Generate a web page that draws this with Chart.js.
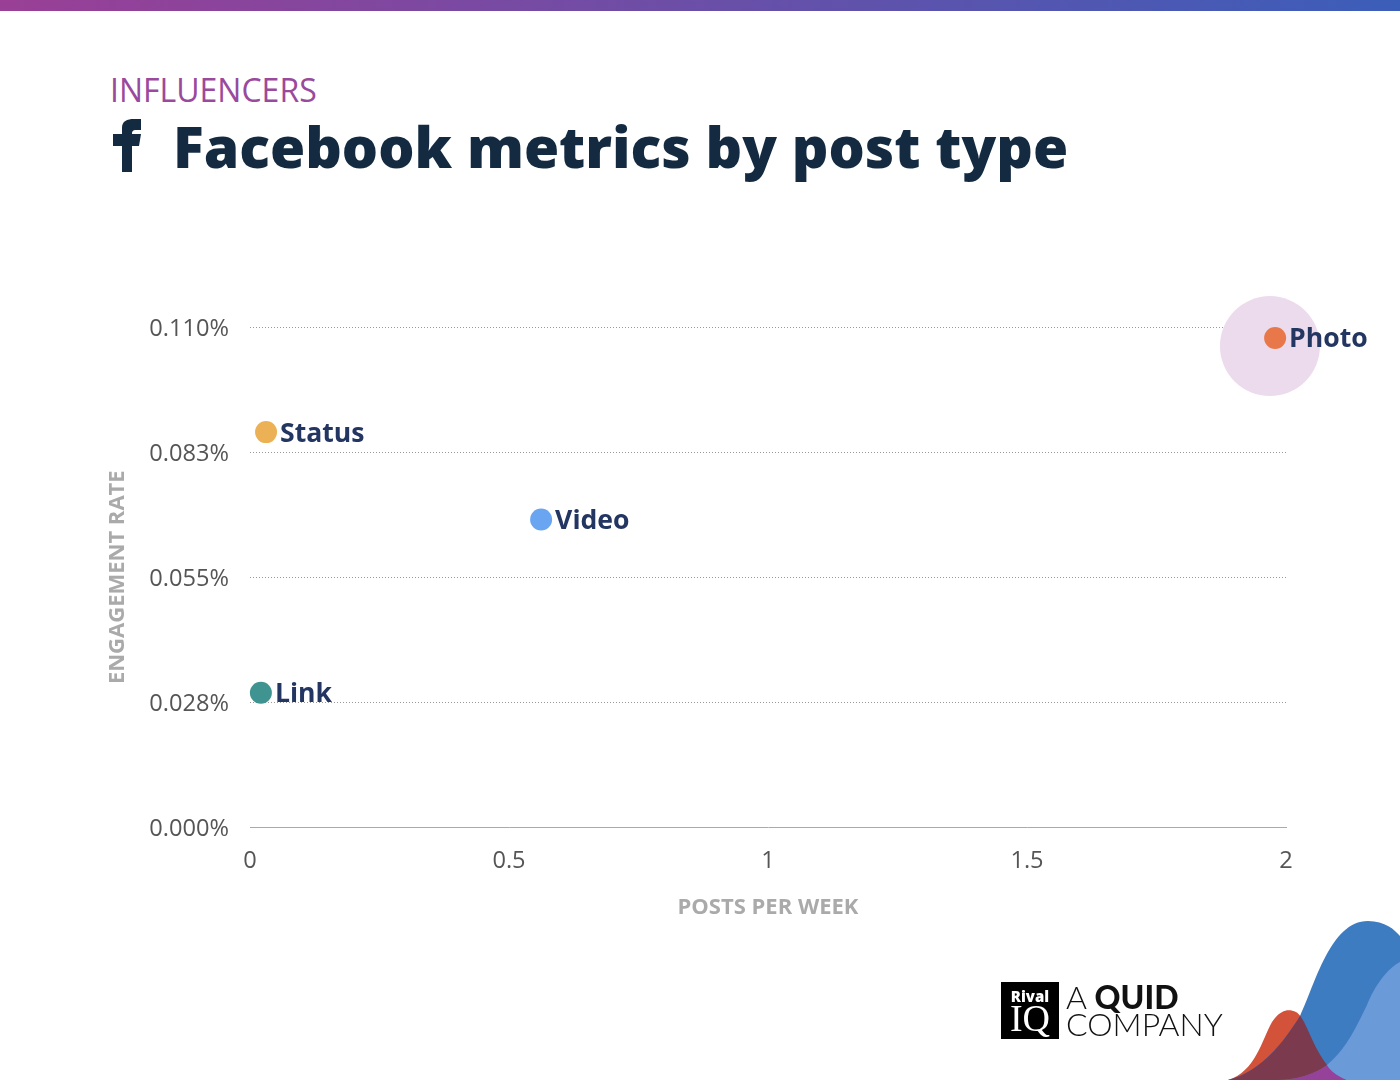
<!DOCTYPE html>
<html>
<head>
<meta charset="utf-8">
<script src="https://cdn.jsdelivr.net/npm/chart.js@4"></script>
<style>
  html, body { margin: 0; padding: 0; background: #fff; }
  #pagina { position: relative; width: 1400px; height: 1080px; overflow: hidden; font-family: "Open Sans", sans-serif; }
  #barra { position: absolute; left: 0; top: 0; width: 1400px; height: 11px; background: linear-gradient(90deg, #9a3f96, #3b5eb9); }
  #subtitulo { position: absolute; left: 110px; top: 68px; font-size: 32px; line-height: 44px; color: #9a4a9c; }
  #titulo { position: absolute; left: 173px; top: 106px; font-size: 57px; line-height: 80px; font-weight: 800; color: #132a40; white-space: nowrap; }
  #grafica { position: absolute; left: 0; top: 0; }
  #adorno { position: absolute; left: 0; top: 0; }
  #cajaLogo { position: absolute; left: 1001px; top: 982px; width: 58px; height: 57px; background: #000; color: #fff; text-align: center; }
  #cajaLogo .rival { position: absolute; left: 0; right: 0; top: 6px; font-family: "Open Sans", sans-serif; font-size: 15px; line-height: 17px; font-weight: 800; }
  #cajaLogo .iq { position: absolute; left: 0; right: 0; top: 18px; font-family: "Liberation Serif", serif; font-size: 38px; line-height: 36px; font-weight: 400; }
  #quid { position: absolute; left: 1066px; top: 983px; font-family: Lato, sans-serif; font-size: 32px; line-height: 27px; color: #111; white-space: nowrap; font-weight: 300; }
  #quid b { font-weight: 900; }
</style>
</head>
<body>
<div id="pagina">
  <div id="barra"></div>
  <svg id="adorno" width="1400" height="1080">
    <!-- la f del titulo -->
    <path fill="#132a40" d="M122 172 V146 H113 V134 H122 V128 C122 121 127 119 134 119 H141 V130 H136 C133 130 132 131 132 134 H141 L139 146 H132 V172 Z"/>
    <defs>
      <clipPath id="recorteRojo">
        <path d="M1228 1080 C1255 1072 1262 1040 1272 1022 C1280 1010 1288 1008 1296 1012 C1306 1018 1310 1042 1327 1065 L1345 1080 Z"/>
      </clipPath>
    </defs>
    <path fill="#d2523a" d="M1228 1080 C1255 1072 1262 1040 1272 1022 C1280 1010 1288 1008 1296 1012 C1306 1018 1310 1042 1327 1065 L1345 1080 Z"/>
    <path fill="#97429a" d="M1277 1080 C1295 1080 1315 1074 1327 1065 L1347 1080 Z"/>
    <path id="azul" fill="#3e7cc2" d="M1228 1080 C1262 1072 1285 1040 1300 1016 C1315 985 1330 921 1368 921 C1385 921 1395 930 1400 936 V1080 H1347 L1327 1065 C1315 1074 1295 1080 1277 1080 Z"/>
    <path fill="#7c3a4e" clip-path="url(#recorteRojo)" d="M1228 1080 C1262 1072 1285 1040 1300 1016 C1315 985 1330 921 1368 921 C1385 921 1395 930 1400 936 V1080 H1347 L1327 1065 C1315 1074 1295 1080 1277 1080 Z"/>
    <path fill="#6b9ad9" d="M1347 1080 C1335 1075 1330 1070 1327 1065 C1345 1050 1355 1030 1367 1005 C1375 985 1388 968 1400 962 V1080 Z"/>
  </svg>
  <div id="subtitulo">INFLUENCERS</div>
  <div id="titulo">Facebook metrics by post type</div>
  <canvas id="grafica" width="1400" height="1080"></canvas>
  <div id="cajaLogo"><div class="rival">Rival</div><div class="iq">IQ</div></div>
  <div id="quid">A <b>QUID</b><br>COMPANY</div>
</div>

<script>
// datos
const tipos = ["Photo", "Status", "Video", "Link"];
const postsPorSemana = [1.979, 0.031, 0.562, 0.021];
const engagement = [0.1076, 0.0869, 0.0677, 0.0296];
const coloresTipos = ["#e8784a", "#ecb154", "#6aa5f2", "#3f9390"];

// el circulo claro detras de Photo
const circuloX = [1.969];
const circuloY = [0.1058];

const ticksY = [0, 0.0275, 0.055, 0.0825, 0.11];
const etiquetasY = ["0.000%", "0.028%", "0.055%", "0.083%", "0.110%"];
const ticksX = [0, 0.5, 1, 1.5, 2];
const etiquetasX = ["0", "0.5", "1", "1.5", "2"];

// escribe el nombre al lado de cada punto
const nombresPuntos = {
  id: "nombresPuntos",
  afterDatasetsDraw(chart) {
    const ctx = chart.ctx;
    const puntos = chart.getDatasetMeta(1).data;
    ctx.save();
    ctx.font = "700 26.6px 'Open Sans'";
    ctx.fillStyle = "#233561";
    ctx.textBaseline = "middle";
    puntos.forEach((punto, i) => {
      ctx.fillText(tipos[i], punto.x + 14, punto.y + 2);
    });
    ctx.restore();
  },
};

new Chart(document.getElementById("grafica"), {
  type: "scatter",
  data: {
    datasets: [
      {
        // order mas alto = se dibuja primero, queda debajo de los puntos
        order: 2,
        data: circuloX.map((x, i) => ({ x: x, y: circuloY[i] })),
        backgroundColor: "#ecdbec",
        pointRadius: 50,
        pointHoverRadius: 50,
        borderWidth: 0,
        clip: false,
      },
      {
        order: 1,
        data: postsPorSemana.map((x, i) => ({ x: x, y: engagement[i] })),
        backgroundColor: coloresTipos,
        pointRadius: 11,
        pointHoverRadius: 11,
        borderWidth: 0,
        clip: false,
      },
    ],
  },
  options: {
    responsive: false,
    animation: false,
    devicePixelRatio: 1,
    layout: { padding: { left: 105, right: 114, top: 327, bottom: 158.8 } },
    plugins: { legend: { display: false }, tooltip: { enabled: false } },
    scales: {
      x: {
        type: "linear",
        min: 0,
        max: 2,
        afterBuildTicks: (eje) => { eje.ticks = ticksX.map((v) => ({ value: v })); },
        afterFit: (eje) => { eje.height = 93.7; },
        grid: { display: false },
        border: { color: "#aaaaaa", width: 1 },
        ticks: {
          font: { family: "Open Sans", size: 23.6 },
          color: "#555555",
          padding: 12,
          maxRotation: 0,
          callback: (valor) => etiquetasX[ticksX.indexOf(valor)],
        },
        title: {
          display: true,
          text: "POSTS PER WEEK",
          font: { family: "Open Sans", size: 22, weight: "700" },
          color: "#aaaaaa",
          padding: 0,
        },
      },
      y: {
        min: 0,
        max: 0.11,
        afterBuildTicks: (eje) => { eje.ticks = ticksY.map((v) => ({ value: v })); },
        afterFit: (eje) => { eje.width = 145; },
        grid: {
          drawTicks: false,
          color: (c) => (c.tick.value === 0 ? "rgba(0,0,0,0)" : "#999999"),
        },
        border: { display: false, dash: [1, 2] },
        ticks: {
          font: { family: "Open Sans", size: 23.6 },
          color: "#555555",
          padding: 21,
          labelOffset: 2,
          callback: (valor) => etiquetasY[ticksY.indexOf(valor)],
        },
        title: {
          display: true,
          text: "ENGAGEMENT RATE",
          font: { family: "Open Sans", size: 22, weight: "700" },
          color: "#aaaaaa",
          padding: 0,
        },
      },
    },
  },
  plugins: [nombresPuntos],
});
</script>
</body>
</html>
